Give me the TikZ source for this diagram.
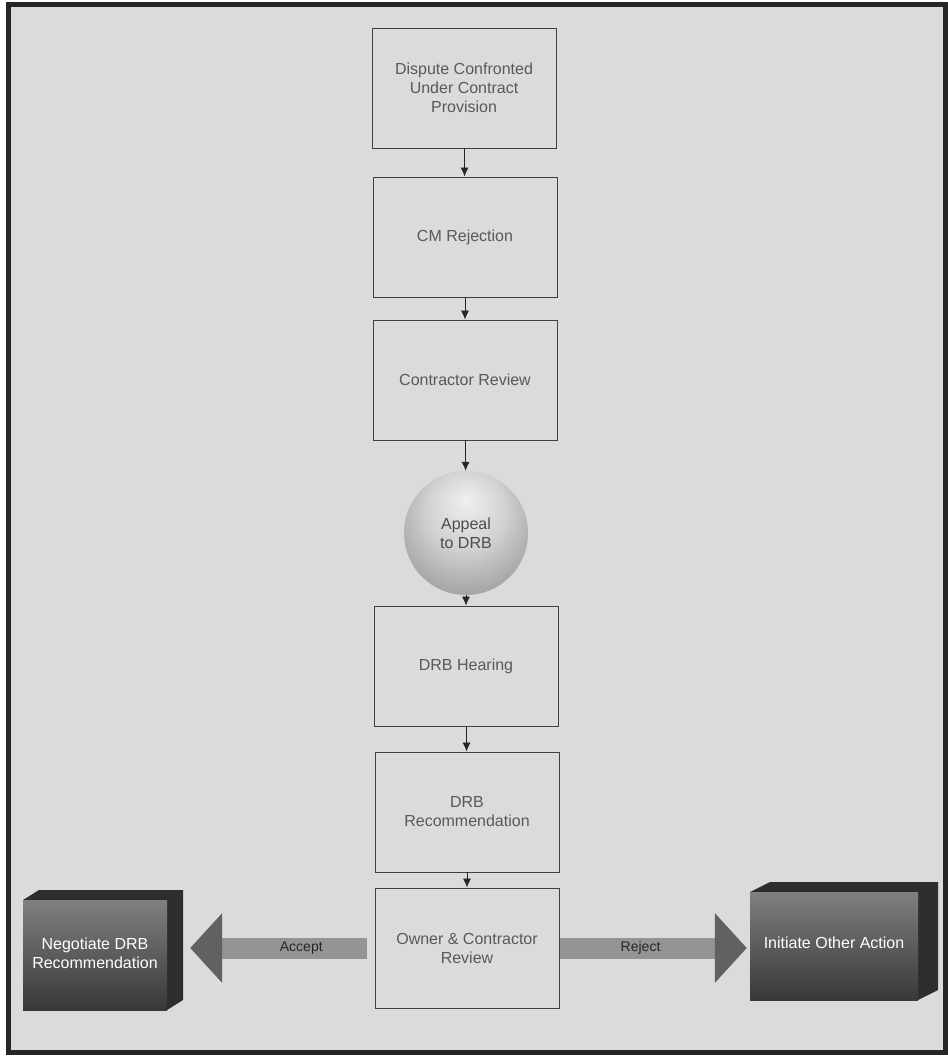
\documentclass[tikz,border=0pt]{standalone}
\usepackage{fontspec}
\setmainfont{Liberation Sans}
\usetikzlibrary{arrows.meta,calc}
\definecolor{paper}{gray}{0.86}
\pgfdeclareradialshading{appealball}{\pgfpoint{0bp}{14bp}}{%
  color(0bp)=(black!6); color(16bp)=(black!18); color(34bp)=(black!40); color(50bp)=(black!55)}
\tikzset{%
  stepbox/.style  = {shape=rectangle, draw=black!75, line width=0.9pt,%
                     fill=paper, align=center, text=black!65,%
                     minimum width=184pt, minimum height=120pt},%
  ball/.style     = {shape=circle, align=center, text=black!70,%
                     minimum size=124pt, shading=appealball},%
  block/.style    = {shape=rectangle, align=center, text=white,%
                     top color=black!50, bottom color=black!78},%
  flow/.style     = {draw=black!85, line width=0.8pt,%
                     -{Latex[length=9pt,width=8pt]}},%
  bigarrow/.style = {draw=black!42, line width=21pt,%
                     -{Triangle[length=32pt,width=68pt,color=black!62]}}%
}

\begin{document}
\begin{tikzpicture}[x=1pt,y=-1pt,
	every node/.style={font=\fontsize{16}{19}\selectfont}]
	\useasboundingbox (0,0) rectangle (947,1056);
	\draw[line width=5pt, draw=black!85, fill=paper] (8,5) rectangle (945,1052);
	% main column
	\node[stepbox] (dispute) at (464,88) {Dispute Confronted\\Under Contract\\Provision};
	\node[stepbox] (cmrej)   at (465,237) {CM Rejection};
	\node[stepbox] (conrev)  at (465,380) {Contractor Review};
	\node[ball]    (appeal)  at (466,533) {Appeal\\to DRB};
	\node[stepbox] (hearing) at (466,666) {DRB Hearing};
	\node[stepbox] (recomm)  at (467,812) {DRB\\Recommendation};
	\node[stepbox] (ownrev)  at (467,948) {Owner \& Contractor\\Review};
	\draw[flow] (dispute) -- (cmrej);
	\draw[flow] (cmrej) -- (conrev);
	\draw[flow] (conrev) -- (appeal);
	\draw[flow] (appeal) -- (hearing);
	\draw[flow] (hearing) -- (recomm);
	\draw[flow] (recomm) -- (ownrev);
	% outcomes
	\fill[black!82] (95,955) ++(-72,-55) -- ++(16,-10) -- ++(144,0) -- ++(0,110) -- ++(-16,10) -- ++(0,-110) -- cycle;
	\node[block, minimum width=144pt, minimum height=110pt] (negot) at (95,955)
		{\raisebox{10pt}{\begin{tabular}{@{}c@{}}Negotiate DRB\\Recommendation\end{tabular}}};
	\fill[black!82] (834,946) ++(-84,-54) -- ++(20,-10) -- ++(168,0) -- ++(0,108) -- ++(-20,10) -- ++(0,-108) -- cycle;
	\node[block, minimum width=168pt, minimum height=108pt] (initiate) at (834,946)
		{\raisebox{6pt}{Initiate Other Action}};
	\draw[bigarrow] ([xshift=-8pt]ownrev.west) -- ([xshift=23pt]negot.east |- ownrev.west)
		node[pos=0.37, text=black!85, font=\fontsize{14}{16}\selectfont] {Accept};
	\draw[bigarrow] ([xshift=1pt]ownrev.east) -- ([xshift=-3pt]initiate.west |- ownrev.east)
		node[pos=0.43, text=black!85, font=\fontsize{14}{16}\selectfont] {Reject};
\end{tikzpicture}
\end{document}
